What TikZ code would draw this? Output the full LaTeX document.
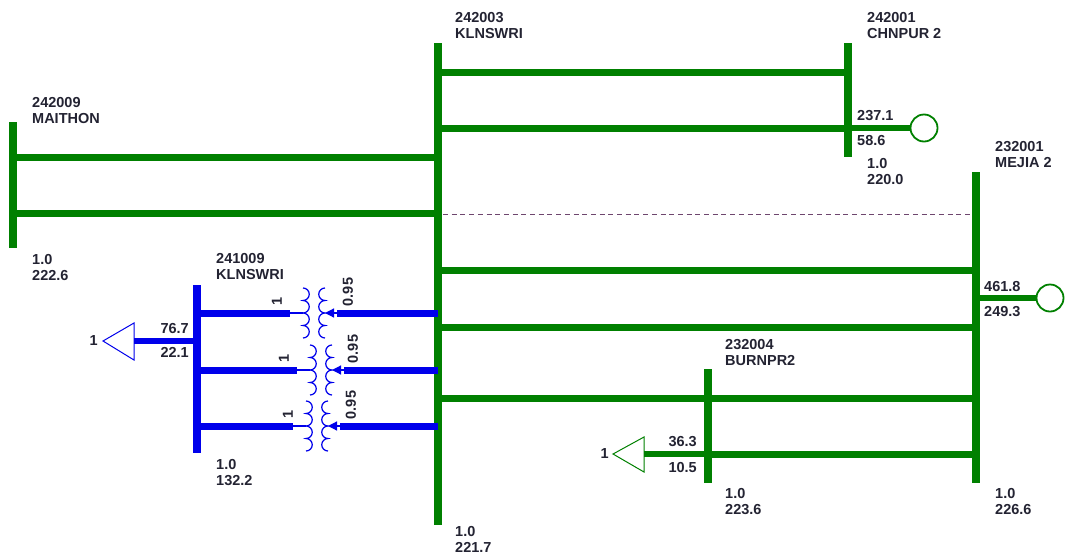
\documentclass[tikz,border=0pt]{standalone}
\usepackage{fontspec}
\setmainfont{Liberation Sans}
\usetikzlibrary{arrows.meta}
\definecolor{busgreen}{RGB}{0,128,0}
\definecolor{busblue}{RGB}{0,0,235}
\definecolor{lbl}{RGB}{35,35,50}
\definecolor{dashline}{RGB}{110,70,110}
\tikzstyle{bus} = [line width=8pt]
\tikzstyle{branch} = [line width=7pt]
\tikzstyle{stub} = [line width=6pt]
\tikzstyle{thinl} = [line width=1.2pt]
\tikzstyle{lab} = [anchor=north west, align=left, inner sep=0pt, text=lbl, font=\fontsize{14.5}{16}\selectfont\bfseries]
\tikzstyle{val} = [inner sep=0pt, text=lbl, font=\fontsize{14.5}{16}\selectfont\bfseries]

\begin{document}
\begin{tikzpicture}[x=1pt,y=-1pt]
	\useasboundingbox (0,0) rectangle (1065,555);
	% bus positions
	\coordinate (mai) at (13,0);
	\coordinate (kln) at (438,0);
	\coordinate (chn) at (848,0);
	\coordinate (mej) at (976,0);
	\coordinate (bur) at (708,0);
	\coordinate (klnlv) at (197,0);
	
	% buses
	\draw[bus,busgreen] (mai |- 0,122) -- (mai |- 0,248);
	\draw[bus,busgreen] (kln |- 0,43) -- (kln |- 0,525);
	\draw[bus,busgreen] (chn |- 0,43) -- (chn |- 0,157);
	\draw[bus,busgreen] (mej |- 0,172) -- (mej |- 0,483);
	\draw[bus,busgreen] (bur |- 0,369) -- (bur |- 0,483);
	\draw[bus,busblue] (klnlv |- 0,285) -- (klnlv |- 0,453);
	
	% bus labels
	\node[lab] (lmai) at (32,97) {242009\\MAITHON};
	\node[lab] (vmai) at (32,254) {1.0\\222.6};
	\node[lab] (lkln) at (455,12) {242003\\KLNSWRI};
	\node[lab] (vkln) at (455,526) {1.0\\221.7};
	\node[lab] (lchn) at (867,12) {242001\\CHNPUR 2};
	\node[lab] (vchn) at (867,158) {1.0\\220.0};
	\node[lab] (lmej) at (995,141) {232001\\MEJIA 2};
	\node[lab] (vmej) at (995,488) {1.0\\226.6};
	\node[lab] (lbur) at (725,339) {232004\\BURNPR2};
	\node[lab] (vbur) at (725,488) {1.0\\223.6};
	\node[lab] (lklnlv) at (216,253) {241009\\KLNSWRI};
	\node[lab] (vklnlv) at (216,459) {1.0\\132.2};
	
	% branches
	\draw[branch,busgreen] (kln |- 0,72) -- (chn |- 0,72);
	\draw[branch,busgreen] (kln |- 0,128) -- (chn |- 0,128);
	\draw[branch,busgreen] (mai |- 0,157) -- (kln |- 0,157);
	\draw[branch,busgreen] (mai |- 0,213) -- (kln |- 0,213);
	\draw[branch,busgreen] (kln |- 0,270) -- (mej |- 0,270);
	\draw[branch,busgreen] (kln |- 0,327) -- (mej |- 0,327);
	\draw[branch,busgreen] (kln |- 0,398) -- (mej |- 0,398);
	\draw[branch,busgreen] (bur |- 0,454) -- (mej |- 0,454);
	\draw[dashline,line width=1pt,dash pattern=on 5pt off 3.7pt] (443,214) -- (970,214);
	
	% generators
	\node[circle,draw=busgreen,line width=1.8pt,minimum size=27pt,inner sep=0pt] (genchn) at (924,128) {};
	\draw[stub,busgreen] (chn |- genchn) -- (genchn.west);
	\node[val,anchor=north west] (pchn) at (857,110) {237.1};
	\node[val,anchor=north west] (qchn) at (857,135) {58.6};
	\node[circle,draw=busgreen,line width=1.8pt,minimum size=27pt,inner sep=0pt] (genmej) at (1050,298) {};
	\draw[stub,busgreen] (mej |- genmej) -- (genmej.west);
	\node[val,anchor=north west] (pmej) at (984,281) {461.8};
	\node[val,anchor=north west] (qmej) at (984,306) {249.3};
	
	% loads
	\coordinate (ldbur) at (613,454);
	\draw[stub,busgreen] (bur |- ldbur) -- (644,454);
	\draw[busgreen,line width=1pt] (ldbur) -- ++(31,-17) -- ++(0,35) -- cycle;
	\node[val,anchor=east] at ([xshift=-4pt]ldbur) {1};
	\node[val,anchor=north east] (pbur) at (697,436) {36.3};
	\node[val,anchor=north east] (qbur) at (697,462) {10.5};
	
	\coordinate (ldkln) at (103,341);
	\draw[stub,busblue] (klnlv |- ldkln) -- (134,341);
	\draw[busblue,line width=1pt] (ldkln) -- ++(31,-18) -- ++(0,37) -- cycle;
	\node[val,anchor=east] at ([xshift=-5pt]ldkln) {1};
	\node[val,anchor=north east] (pkln) at (189,323) {76.7};
	\node[val,anchor=north east] (qkln) at (189,347) {22.1};
	
	% transformers
	\foreach \xc/\ty/\la/\lb in {314/313/277/348, 321/370/284/353, 317/426/288/351} {
		\draw[branch,busblue] (klnlv |- 0,\ty) -- (\xc-24,\ty);
		\draw[thinl,busblue] (\xc-24,\ty) -- (\xc-11,\ty);
		\draw[thinl,busblue] (\xc-11,\ty-25) \foreach \k in {1,...,4}{arc[start angle=-90,end angle=90,radius=6.25]};
		\draw[thinl,busblue] (\xc+11,\ty-25) \foreach \k in {1,...,4}{arc[start angle=-90,end angle=-270,radius=6.25]};
		\draw[branch,busblue] (kln |- 0,\ty) -- (\xc+23,\ty);
		\draw[thinl,busblue,-{Triangle[length=9pt,width=9pt]}] (\xc+23,\ty) -- (\xc+11,\ty);
		\node[val,rotate=90] at (\la,\ty-12) {1};
		\node[val,rotate=90] at (\lb,\ty-21) {0.95};
	}
\end{tikzpicture}
\end{document}
